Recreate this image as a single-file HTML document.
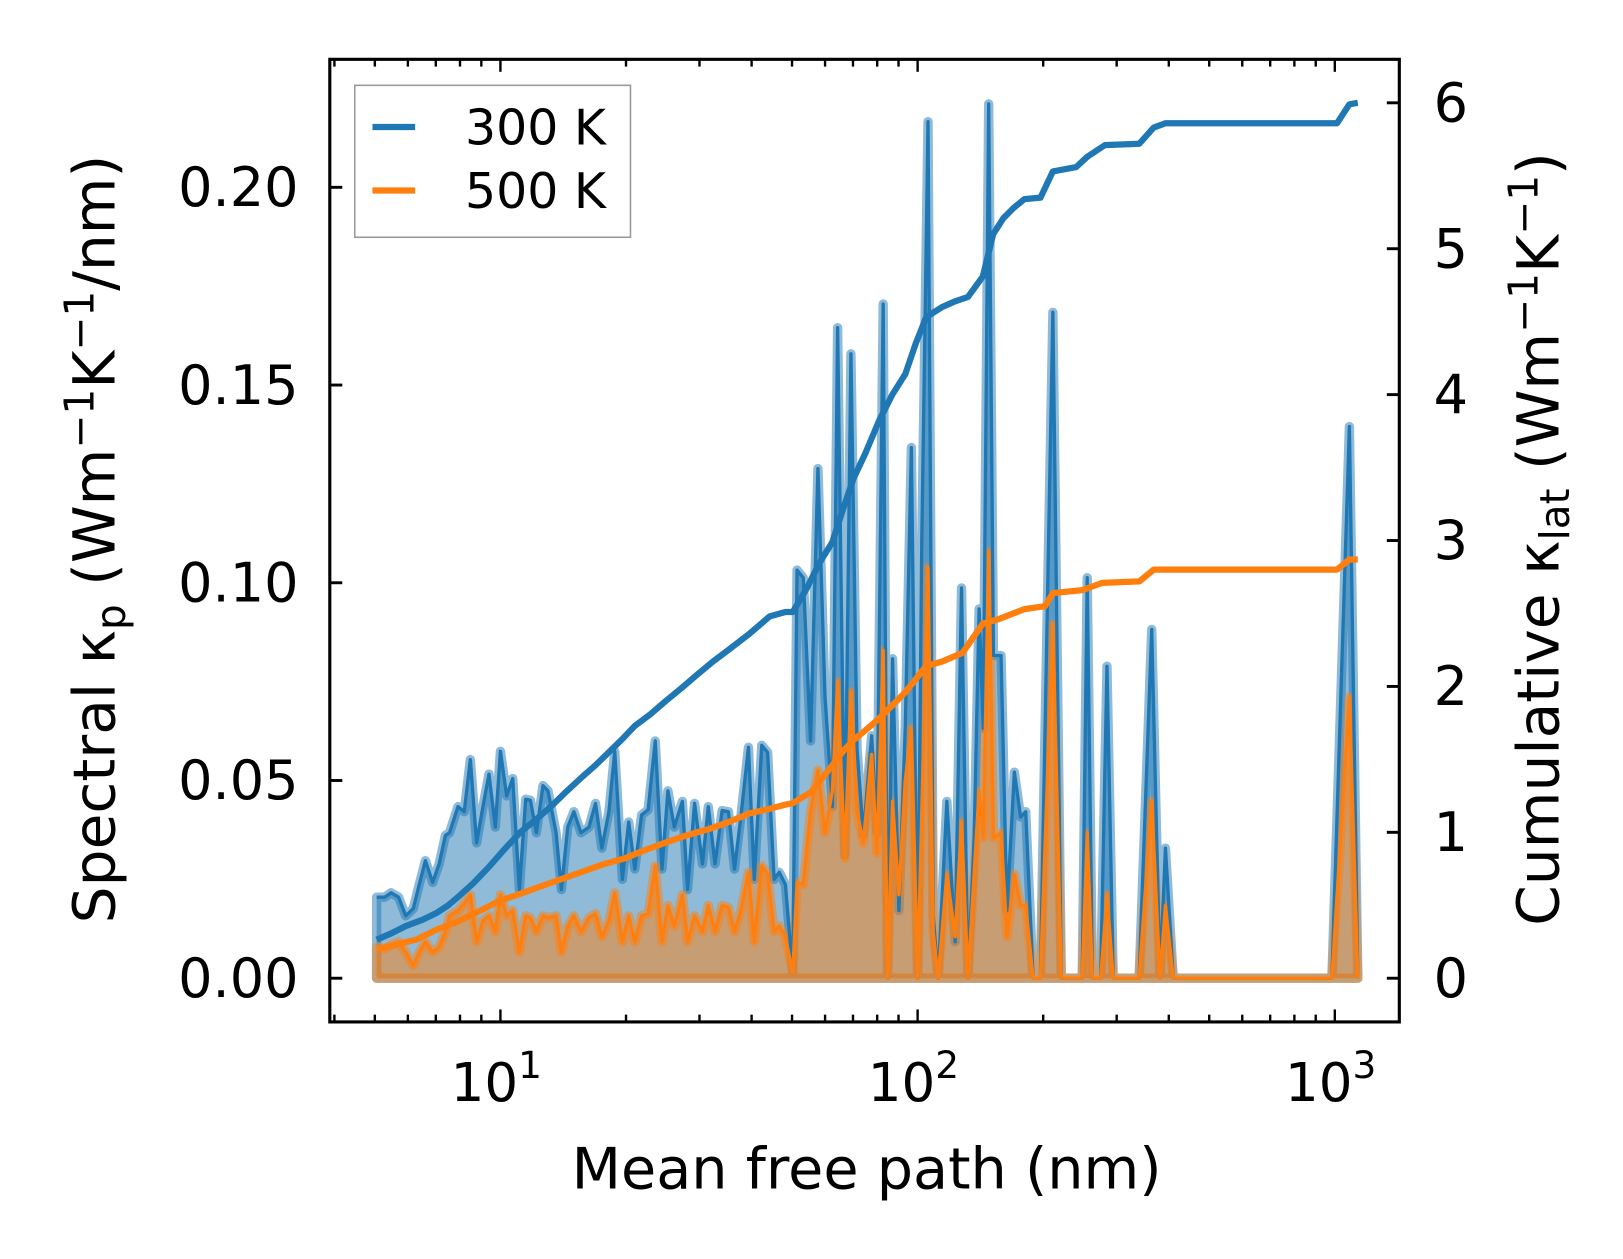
<!DOCTYPE html>
<html><head><meta charset="utf-8"><style>
html,body{margin:0;padding:0;background:#fff;}
svg text{font-family:"DejaVu Sans","Liberation Sans",sans-serif;fill:#000;}
</style></head><body>
<svg width="1623" height="1254" viewBox="0 0 1560 1205" preserveAspectRatio="none" xmlns="http://www.w3.org/2000/svg">
<g id="plot"></g>
<rect x="317" y="57" width="1028" height="925" fill="none" stroke="#000" stroke-width="3"/>
<g id="ticks"></g>
<g>
<rect x="341" y="82" width="265" height="146" fill="#fff" fill-opacity="0.8" stroke="#999" stroke-width="1.5"/>
<line x1="358" y1="122" x2="399" y2="122" stroke="#1f77b4" stroke-width="6"/>
<text x="447" y="139" font-size="47">300 K</text>
<line x1="358" y1="183" x2="399" y2="183" stroke="#ff7f0e" stroke-width="6"/>
<text x="447" y="200" font-size="47">500 K</text>
</g>
<text x="833" y="1142" font-size="55" text-anchor="middle">Mean free path (nm)</text>
<text transform="translate(110,518) rotate(-90)" font-size="56" text-anchor="middle">Spectral κ<tspan font-size="39" dy="10">p</tspan><tspan dy="-10"> (Wm</tspan><tspan font-size="39" dy="-20">−1</tspan><tspan dy="20">K</tspan><tspan font-size="39" dy="-20">−1</tspan><tspan dy="20">/nm)</tspan></text>
<text transform="translate(1498,518) rotate(-90)" font-size="56" text-anchor="middle">Cumulative κ<tspan font-size="39" dy="10">lat</tspan><tspan dy="-10"> (Wm</tspan><tspan font-size="39" dy="-20">−1</tspan><tspan dy="20">K</tspan><tspan font-size="39" dy="-20">−1</tspan><tspan dy="20">)</tspan></text>
</svg>
<script>
const mfp = [5.05,5.28,5.47,5.70,5.93,6.18,6.39,6.61,6.88,7.13,7.38,7.55,7.91,8.19,8.47,8.77,9.08,9.39,9.72,10.0,10.35,10.7,11.1,11.5,11.8,12.2,12.65,13.0,13.6,14.0,14.5,15.0,15.6,16.3,16.9,17.5,18.2,18.8,19.6,20.3,21.0,21.8,22.6,23.5,24.4,25.2,26.1,27.3,28.1,29.2,30.5,31.5,32.7,34.0,35.2,36.4,37.7,39.3,40.6,42.3,43.7,45.3,46.6,48.2,50.2,51.4,53.2,55.4,57.7,60.0,62.5,64.3,66.9,69.2,71.6,74.1,77.6,79.9,82.7,84.7,87.1,90.2,93.4,96.6,100,102.3,105.9,109,112,117.5,123,127.4,132,136.6,140.4,143.7,148,152,158.5,163.8,170.6,176.6,181.6,189.2,196.9,211,221,248,254.9,262.4,274.8,284.4,294.4,339.6,363.9,381,392.6,410,984,1084,1135];
const spec300 = [0.0205,0.0205,0.0216,0.0205,0.0158,0.0176,0.0237,0.0297,0.0242,0.0289,0.0361,0.0368,0.0434,0.0421,0.0553,0.0342,0.0434,0.0516,0.0382,0.0574,0.0461,0.0505,0.0224,0.0453,0.0450,0.0368,0.0487,0.0474,0.0368,0.0224,0.0382,0.0421,0.0368,0.0382,0.0442,0.0329,0.0421,0.0574,0.0250,0.0395,0.0276,0.0413,0.0426,0.0600,0.0276,0.0474,0.0382,0.0447,0.0224,0.0442,0.0289,0.0434,0.0289,0.0424,0.0421,0.0276,0.0408,0.0584,0.0250,0.0589,0.0571,0.0250,0.0268,0.0237,0.0013,0.1032,0.1013,0.0600,0.1289,0.0711,0.0434,0.1645,0.0311,0.1579,0.0579,0.0363,0.0613,0.0368,0.1705,0.0,0.0808,0.0171,0.0632,0.1342,0.0,0.1105,0.2166,0.0158,0.0,0.0447,0.0092,0.0987,0.0,0.0355,0.0934,0.0632,0.2211,0.0816,0.0816,0.0171,0.0521,0.0408,0.0421,0.0,0.0,0.1684,0.0,0.0,0.1013,0.0,0.0,0.0789,0.0,0.0,0.0882,0.0,0.0329,0.0,0.0,0.1395,0.0];
const spec500 = [0.0079,0.0074,0.0084,0.0092,0.0066,0.0032,0.0066,0.0092,0.0066,0.0079,0.0118,0.0158,0.0171,0.0189,0.0211,0.0092,0.0145,0.0158,0.0118,0.0211,0.0158,0.0171,0.0066,0.0158,0.0153,0.0118,0.0158,0.0153,0.0158,0.0066,0.0132,0.0158,0.0118,0.0153,0.0163,0.0105,0.0145,0.0216,0.0092,0.0158,0.0092,0.0158,0.0163,0.0284,0.0092,0.0184,0.0132,0.0211,0.0092,0.0158,0.0118,0.0184,0.0118,0.0184,0.0179,0.0118,0.0171,0.0268,0.0092,0.0284,0.0263,0.0118,0.0132,0.0105,0.0013,0.0242,0.0237,0.0421,0.0526,0.0368,0.0474,0.0750,0.0303,0.0724,0.0421,0.0342,0.0566,0.0316,0.0829,0.0,0.0447,0.0211,0.0500,0.0632,0.0,0.0421,0.1039,0.0118,0.0,0.0263,0.0105,0.0395,0.0,0.0263,0.0474,0.0355,0.1079,0.0355,0.0368,0.0105,0.0263,0.0184,0.0184,0.0,0.0,0.0895,0.0,0.0,0.0368,0.0,0.0,0.0211,0.0,0.0,0.0447,0.0,0.0184,0.0,0.0,0.0711,0.0];
const cumMfp300 = [5.05,5.5,5.93,6.5,7.04,7.5,7.91,8.6,9.39,10.2,11.15,12.2,13.25,14.4,15.7,16.9,18.2,19.6,21.0,22.9,24.9,27.2,29.6,32.3,35.2,39.5,44.2,48.2,50.2,54.2,58,62.5,66,70.1,75,80.8,87,93.4,99,104.8,114.4,123,132,143.3,151.7,160.6,170,180.3,197,211,240,255,281,340,368,393,1013,1084,1135];
const cum300 = [0.264,0.31,0.357,0.40,0.449,0.50,0.556,0.65,0.763,0.88,1.0,1.09,1.18,1.28,1.38,1.46,1.55,1.64,1.73,1.81,1.90,1.99,2.08,2.17,2.25,2.36,2.48,2.51,2.51,2.67,2.84,2.99,3.20,3.42,3.60,3.82,4.00,4.14,4.35,4.53,4.60,4.64,4.67,4.81,5.10,5.21,5.28,5.34,5.35,5.53,5.56,5.63,5.71,5.72,5.83,5.86,5.86,5.99,6.0];
const cumMfp500 = [5.05,5.6,6.28,7.0,7.91,8.9,9.94,11.2,12.5,14.0,15.7,17.6,19.8,22.3,24.9,28,31.4,35.2,39.5,44,48.2,50.2,55.8,62.5,66,70.1,75,80.8,87,93.4,99,104.8,114.4,128.1,143.3,156.0,180.3,202,211,248,277,340,368,1013,1084,1135];
const cum500 = [0.20,0.23,0.264,0.33,0.39,0.46,0.53,0.58,0.63,0.68,0.73,0.78,0.82,0.88,0.93,0.98,1.02,1.07,1.13,1.16,1.19,1.20,1.28,1.46,1.55,1.63,1.70,1.78,1.87,1.96,2.05,2.14,2.17,2.23,2.43,2.46,2.53,2.55,2.64,2.66,2.71,2.72,2.80,2.80,2.87,2.87];
const leftTicks = [0,0.05,0.10,0.15,0.20];
const leftTickLabels = ["0.00","0.05","0.10","0.15","0.20"];
const rightTicks = [0,1,2,3,4,5,6];
const xMajor = [1,2,3];

const NS="http://www.w3.org/2000/svg";
function xs(v){return 481+401*(Math.log10(v)-1);}
function yl(v){return 940-3800*v;}
function yr(v){return 940-140.2*v;}
function mk(tag,attrs,parent){const e=document.createElementNS(NS,tag);for(const k in attrs)e.setAttribute(k,attrs[k]);parent.appendChild(e);return e;}
const plot=document.getElementById('plot');
const ticks=document.getElementById('ticks');

function spectral(vals,color,name){
  let pts=mfp.map((m,i)=>xs(m).toFixed(1)+','+yl(vals[i]).toFixed(1));
  const base=xs(mfp[mfp.length-1]).toFixed(1)+','+yl(0)+' '+xs(mfp[0]).toFixed(1)+','+yl(0);
  const f=mk('polygon',{points:pts.join(' ')+' '+base,fill:color,'fill-opacity':0.5,stroke:color,'stroke-opacity':0.5,'stroke-width':9,'stroke-linejoin':'round'},plot);
  
  
  return pts;
}
const p300=spectral(spec300,'#1f77b4','spectral-300k');
const p500=spectral(spec500,'#ff7f0e','spectral-500k');
const l1=mk('polyline',{points:p300.join(' '),fill:'none',stroke:'#1f77b4','stroke-width':3.2,'stroke-linejoin':'round'},plot);


const l2=mk('polyline',{points:p500.join(' '),fill:'none',stroke:'#ff7f0e','stroke-width':3.2,'stroke-linejoin':'round'},plot);



function cum(xv,yv,color,name){
  const pts=xv.map((m,i)=>xs(m).toFixed(1)+','+yr(yv[i]).toFixed(1)).join(' ');
  const e=mk('polyline',{points:pts,fill:'none',stroke:color,'stroke-width':6,'stroke-linejoin':'round'},plot);
  
  
}
cum(cumMfp300,cum300,'#1f77b4','cumulative-300k-line');
cum(cumMfp500,cum500,'#ff7f0e','cumulative-500k-line');

const L=317,R=1345,T=57,B=982;
leftTicks.forEach((v,i)=>{
  const y=yl(v);
  const t=mk('line',{x1:L,y1:y,x2:L+12,y2:y,stroke:'#000','stroke-width':2.8},ticks);
  
  
  const tx=mk('text',{x:287,y:y+18,'font-size':52,'text-anchor':'end'},ticks);
  tx.textContent=leftTickLabels[i];
  
  
});
rightTicks.forEach(v=>{
  const y=yr(v);
  const t=mk('line',{x1:R-12,y1:y,x2:R,y2:y,stroke:'#000','stroke-width':2.8},ticks);
  
  
  const tx=mk('text',{x:1378,y:y+18,'font-size':52},ticks);
  tx.textContent=String(v);
  
  
});
for(let d=0;d<=3;d++){
  for(let k=1;k<=9;k++){
    const v=k*Math.pow(10,d);
    const x=xs(v);
    if(x<L||x>R)continue;
    const len=k===1?12:7;
    const a=mk('line',{x1:x,y1:B,x2:x,y2:B-len,stroke:'#000','stroke-width':2.3},ticks);
    
    
    const b=mk('line',{x1:x,y1:T,x2:x,y2:T+len,stroke:'#000','stroke-width':2.3},ticks);
    
    
  }
}
xMajor.forEach(e=>{
  const x=xs(Math.pow(10,e));
  const tx=mk('text',{x:x-4,y:1058,'font-size':51,'text-anchor':'middle'},ticks);
  tx.innerHTML='10<tspan font-size="36" dy="-22">'+e+'</tspan>';
  
  
});
</script>
</body></html>
